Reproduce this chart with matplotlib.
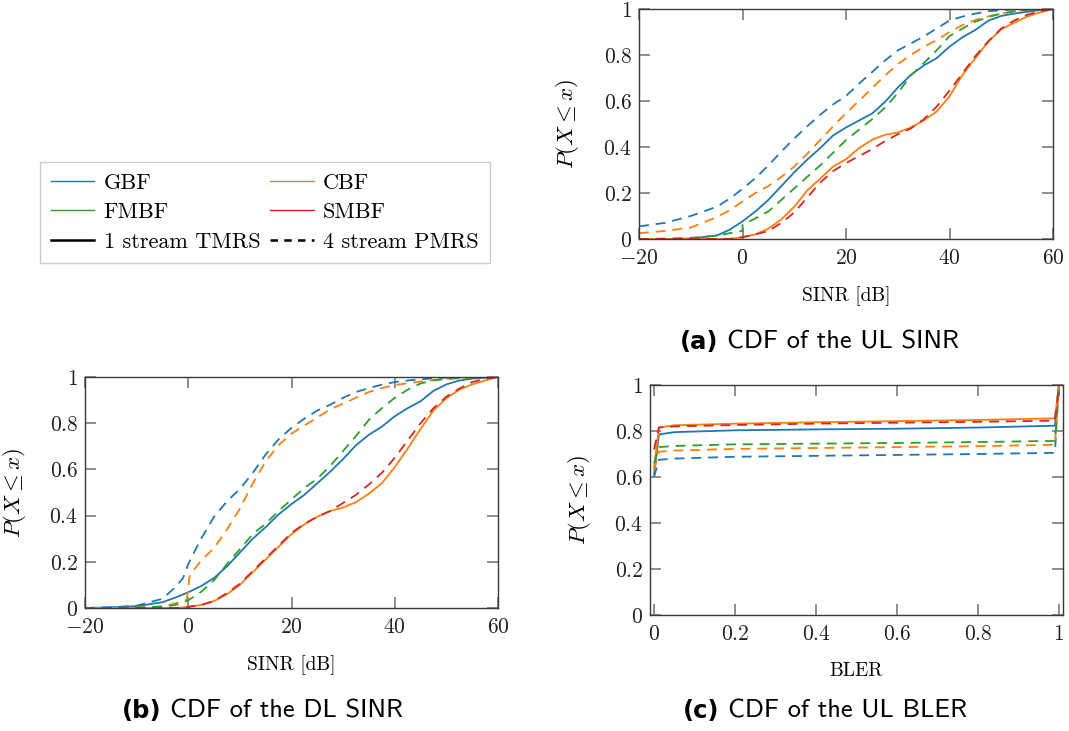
import matplotlib
matplotlib.use("Agg")
import matplotlib.pyplot as plt
from matplotlib.lines import Line2D

plt.rcParams["font.family"] = ["cmr10", "DejaVu Serif"]
plt.rcParams["mathtext.fontset"] = "cm"
plt.rcParams["axes.formatter.use_mathtext"] = True
plt.rcParams["axes.unicode_minus"] = True

# ---------------- data ----------------
SINR_X = [-20, -15, -10, -5, -2.5, 0, 2.5, 5, 7.5, 10, 12.5, 15, 17.5, 20, 22.5,
          25, 27.5, 30, 32.5, 35, 37.5, 40, 42.5, 45, 47.5, 50, 52.5, 55, 57.5, 60]

# (a) uplink SINR CDFs
ul_gbf_1s = [0, 0, 0.002, 0.015, 0.04, 0.077, 0.12, 0.17, 0.23, 0.29, 0.345, 0.395,
             0.45, 0.485, 0.515, 0.545, 0.595, 0.658, 0.713, 0.754, 0.786, 0.836,
             0.877, 0.909, 0.949, 0.97, 0.98, 0.988, 0.995, 1.0]
ul_cbf_1s = [0, 0, 0, 0, 0, 0.008, 0.02, 0.045, 0.085, 0.14, 0.211, 0.262, 0.315,
             0.347, 0.395, 0.431, 0.453, 0.463, 0.485, 0.515, 0.554, 0.62, 0.713,
             0.786, 0.858, 0.912, 0.94, 0.967, 0.985, 1.0]
ul_gbf_4s = [0.055, 0.07, 0.1, 0.14, 0.175, 0.218, 0.265, 0.32, 0.38, 0.437, 0.49,
             0.54, 0.585, 0.622, 0.675, 0.725, 0.775, 0.82, 0.85, 0.88, 0.915, 0.95,
             0.967, 0.98, 0.99, 0.995, 0.998, 1.0, 1.0, 1.0]
ul_cbf_4s = [0.025, 0.035, 0.05, 0.095, 0.125, 0.163, 0.2, 0.23, 0.27, 0.315, 0.37,
             0.43, 0.49, 0.547, 0.6, 0.655, 0.71, 0.76, 0.8, 0.835, 0.865, 0.9, 0.93,
             0.952, 0.968, 0.98, 0.99, 0.996, 0.999, 1.0]
ul_fmbf_4s_x = [-20, -15, -10, -5, -2.5, 0, 0, 2.5, 5, 7.5, 10, 12.5, 15, 17.5, 20,
                22.5, 25, 27.5, 30, 32.5, 35, 37.5, 40, 42.5, 45, 47.5, 50, 52.5, 55,
                57.5, 60]
ul_fmbf_4s = [0, 0.002, 0.005, 0.015, 0.025, 0.035, 0.06, 0.09, 0.12, 0.17, 0.22,
              0.27, 0.32, 0.375, 0.43, 0.475, 0.52, 0.57, 0.634, 0.71, 0.764, 0.82,
              0.882, 0.915, 0.945, 0.965, 0.98, 0.99, 0.996, 0.999, 1.0]
ul_smbf_4s = [0, 0, 0, 0, 0, 0.008, 0.02, 0.035, 0.07, 0.115, 0.18, 0.245, 0.295,
              0.33, 0.36, 0.39, 0.425, 0.455, 0.48, 0.52, 0.575, 0.645, 0.72, 0.795,
              0.86, 0.915, 0.95, 0.975, 0.99, 1.0]

# (b) downlink SINR CDFs
dl_gbf_1s = [0, 0.003, 0.008, 0.025, 0.045, 0.068, 0.095, 0.13, 0.18, 0.24, 0.3,
             0.35, 0.405, 0.45, 0.49, 0.54, 0.59, 0.645, 0.705, 0.75, 0.785, 0.83,
             0.865, 0.895, 0.94, 0.968, 0.985, 0.993, 0.997, 1.0]
dl_cbf_1s = [0, 0, 0, 0, 0, 0.005, 0.013, 0.03, 0.06, 0.1, 0.155, 0.21, 0.265,
             0.32, 0.362, 0.395, 0.42, 0.435, 0.458, 0.495, 0.54, 0.61, 0.69, 0.775,
             0.855, 0.908, 0.945, 0.968, 0.985, 1.0]
dl_gbf_4s_x = [-20, -15, -10, -5, -2.5, -1, 0, 1, 2.5, 5, 7.5, 10, 12.5, 15, 17.5,
               20, 22.5, 25, 27.5, 30, 32.5, 35, 37.5, 40, 42.5, 45, 47.5, 50, 52.5,
               55, 57.5, 60]
dl_gbf_4s = [0, 0.003, 0.01, 0.04, 0.09, 0.13, 0.19, 0.235, 0.3, 0.395, 0.462,
             0.515, 0.585, 0.665, 0.73, 0.78, 0.82, 0.855, 0.88, 0.91, 0.935, 0.952,
             0.967, 0.978, 0.985, 0.99, 0.994, 0.997, 0.999, 1.0, 1.0, 1.0]
dl_cbf_4s_x = [-20, -15, -10, -5, -2.5, -0.3, 0.3, 2.5, 5, 7.5, 10, 12.5, 15,
               17.5, 20, 22.5, 25, 27.5, 30, 32.5, 35, 37.5, 40, 42.5, 45, 47.5, 50,
               52.5, 55, 57.5, 60]
dl_cbf_4s = [0, 0, 0.002, 0.007, 0.02, 0.035, 0.143, 0.205, 0.26, 0.34, 0.43, 0.54,
             0.635, 0.705, 0.755, 0.79, 0.825, 0.86, 0.885, 0.91, 0.935, 0.952, 0.965,
             0.973, 0.98, 0.987, 0.992, 0.996, 0.999, 1.0, 1.0]
dl_fmbf_4s = [0, 0, 0.002, 0.006, 0.013, 0.033, 0.07, 0.12, 0.19, 0.255, 0.32, 0.365,
              0.42, 0.47, 0.52, 0.56, 0.615, 0.68, 0.745, 0.815, 0.865, 0.91, 0.945,
              0.972, 0.985, 0.992, 0.995, 0.997, 0.999, 1.0]
dl_smbf_4s = [0, 0, 0, 0, 0, 0.005, 0.013, 0.03, 0.065, 0.105, 0.16, 0.215, 0.27,
              0.325, 0.365, 0.395, 0.42, 0.455, 0.49, 0.535, 0.585, 0.65, 0.725, 0.8,
              0.865, 0.915, 0.95, 0.978, 0.992, 1.0]

# (c) uplink BLER CDFs
BLER_X = [0, 0.012, 0.05, 0.2, 0.4, 0.6, 0.8, 0.99, 1.0]
bler_gbf_1s = [0.61, 0.785, 0.795, 0.803, 0.807, 0.81, 0.815, 0.823, 1.0]
bler_cbf_1s = [0.64, 0.815, 0.825, 0.832, 0.838, 0.843, 0.848, 0.855, 1.0]
bler_gbf_4s = [0.6, 0.675, 0.68, 0.688, 0.692, 0.696, 0.7, 0.705, 1.0]
bler_cbf_4s = [0.63, 0.71, 0.715, 0.722, 0.726, 0.73, 0.734, 0.74, 1.0]
bler_fmbf_4s = [0.66, 0.73, 0.735, 0.742, 0.745, 0.748, 0.752, 0.757, 1.0]
bler_smbf_4s = [0.72, 0.815, 0.82, 0.826, 0.832, 0.836, 0.84, 0.845, 1.0]

SCHEMES = ["GBF", "CBF", "FMBF", "SMBF"]
COLORS = {"GBF": "#1f77b4", "CBF": "#ff7f0e", "FMBF": "#2ca02c", "SMBF": "#d62728"}
STREAM_LABELS = ["1 stream TMRS", "4 stream PMRS"]

SINR_TICKS = [-20, 0, 20, 40, 60]
BLER_TICKS = [0, 0.2, 0.4, 0.6, 0.8, 1]
P_TICKS = [0, 0.2, 0.4, 0.6, 0.8, 1]

# ---------------- figure ----------------
W, H = 1069, 731
fig = plt.figure(figsize=(W / 100, H / 100), dpi=100)


def box(l, t, r, b):
    return [l / W, 1 - b / H, (r - l) / W, (b - t) / H]


LW = 1.3
DASH = (5.5, 3.8)
SPINE = "#3a3a3a"
TICKC = "#7a7a7a"
TICK_FS = 15.5


def fmt(v):
    return "$%g$" % v


def style(ax, xticks, xlim, ylab_right):
    ax.set_xlim(*xlim)
    ax.set_ylim(0, 1)
    ax.set_xticks(xticks)
    ax.set_xticklabels([fmt(v) for v in xticks])
    ax.set_yticks(P_TICKS)
    ax.set_yticklabels([fmt(v) for v in P_TICKS])
    ax.tick_params(direction="in", length=8, width=1.2, color=TICKC,
                   top=True, right=True, labelsize=TICK_FS, colors="#222222")
    ax.tick_params(axis="x", pad=7)
    ax.tick_params(axis="y", pad=5)
    for sp in ax.spines.values():
        sp.set_color(SPINE)
        sp.set_linewidth(1.0)
    ax.set_ylabel(r"$P(X \leq x)$", fontsize=16.5)
    bb = ax.get_position()
    ax.yaxis.set_label_coords((ylab_right / W - bb.x0) / bb.width, 0.5)


def solid(ax, x, y, name):
    ax.plot(x, y, color=COLORS[name], lw=LW, solid_joinstyle="round")


def dashed(ax, x, y, name):
    ax.plot(x, y, color=COLORS[name], lw=LW, linestyle=(0, DASH))


# (a)
axa = fig.add_axes(box(639, 9, 1053, 239))
solid(axa, SINR_X, ul_gbf_1s, "GBF")
solid(axa, SINR_X, ul_cbf_1s, "CBF")
dashed(axa, SINR_X, ul_gbf_4s, "GBF")
dashed(axa, SINR_X, ul_cbf_4s, "CBF")
dashed(axa, ul_fmbf_4s_x, ul_fmbf_4s, "FMBF")
dashed(axa, SINR_X, ul_smbf_4s, "SMBF")
style(axa, SINR_TICKS, (-20, 60), 581)
axa.set_xlabel("SINR [dB]", fontsize=14, labelpad=13)

# (b)
axb = fig.add_axes(box(85, 377, 498, 608))
solid(axb, SINR_X, dl_gbf_1s, "GBF")
solid(axb, SINR_X, dl_cbf_1s, "CBF")
dashed(axb, dl_gbf_4s_x, dl_gbf_4s, "GBF")
dashed(axb, dl_cbf_4s_x, dl_cbf_4s, "CBF")
dashed(axb, SINR_X, dl_fmbf_4s, "FMBF")
dashed(axb, SINR_X, dl_smbf_4s, "SMBF")
style(axb, SINR_TICKS, (-20, 60), 28)
axb.set_xlabel("SINR [dB]", fontsize=14, labelpad=13)

# (c)
axc = fig.add_axes(box(650, 385, 1063, 615))
solid(axc, BLER_X, bler_gbf_1s, "GBF")
solid(axc, BLER_X, bler_cbf_1s, "CBF")
dashed(axc, BLER_X, bler_gbf_4s, "GBF")
dashed(axc, BLER_X, bler_cbf_4s, "CBF")
dashed(axc, BLER_X, bler_fmbf_4s, "FMBF")
dashed(axc, BLER_X, bler_smbf_4s, "SMBF")
style(axc, BLER_TICKS, (-0.01, 1.01), 593)
axc.set_xlabel("BLER", fontsize=14, labelpad=13)

# legend
handles = [Line2D([], [], color=COLORS["GBF"], lw=1.0),
           Line2D([], [], color=COLORS["FMBF"], lw=1.0),
           Line2D([], [], color="black", lw=1.8),
           Line2D([], [], color=COLORS["CBF"], lw=1.0),
           Line2D([], [], color=COLORS["SMBF"], lw=1.0),
           Line2D([], [], color="black", lw=1.8, linestyle=(0, (3, 2.5)))]
labels = ["GBF", "FMBF", STREAM_LABELS[0], "CBF", "SMBF", STREAM_LABELS[1]]
leg = fig.legend(handles, labels, ncol=2, loc="upper left",
                 bbox_to_anchor=(40 / W, 1 - 162 / H), fontsize=16,
                 frameon=True, fancybox=False, framealpha=1, edgecolor="#cccccc",
                 handlelength=1.95, handletextpad=0.42, columnspacing=0.45,
                 labelspacing=0.45, borderpad=0.5, borderaxespad=0)
leg.get_frame().set_linewidth(1.0)

# captions
CAP = 19


def caption(x_left, y, tag, text):
    fig.text((x_left - 9) / W, 1 - y / H, tag, ha="right", va="center",
             fontsize=CAP - 1.5, fontweight="bold", family="DejaVu Sans")
    fig.text(x_left / W, 1 - y / H, text, ha="left", va="center",
             fontsize=CAP, family="cmss10")


caption(727, 342, "(a)", "CDF of the UL SINR")
caption(170, 711, "(b)", "CDF of the DL SINR")
caption(728, 711, "(c)", "CDF of the UL BLER")

fig.savefig("out.png", dpi=100)
